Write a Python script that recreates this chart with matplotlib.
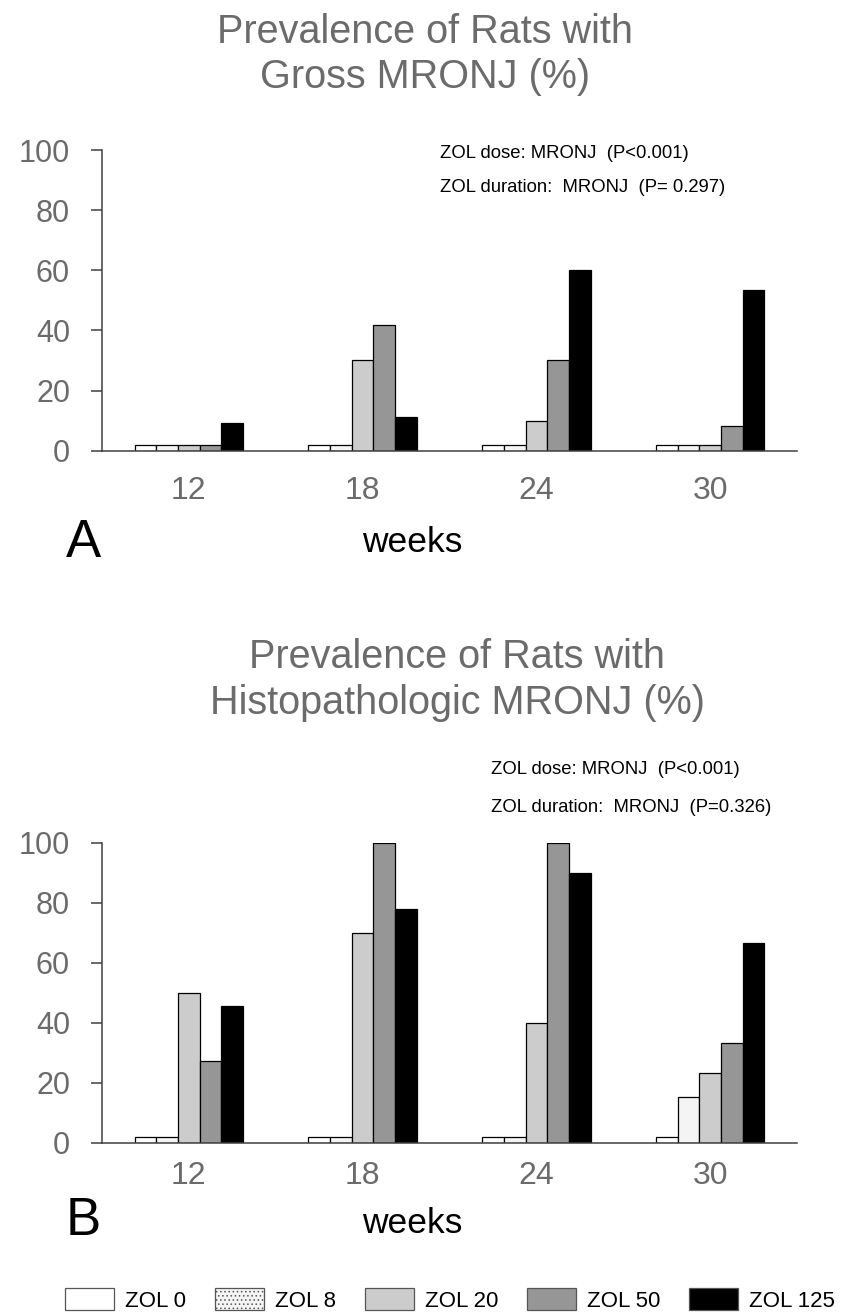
import matplotlib
matplotlib.use("Agg")
import matplotlib.pyplot as plt
from matplotlib.patches import Patch
import numpy as np

W, H = 842, 1313

weeks = ["12", "18", "24", "30"]
groups = ["ZOL 0", "ZOL 8", "ZOL 20", "ZOL 50", "ZOL 125"]

# % of rats (2 = small placeholder bar for zero)
gross_zol0 = [2, 2, 2, 2]
gross_zol8 = [2, 2, 2, 2]
gross_zol20 = [2, 30, 10, 2]
gross_zol50 = [2, 41.7, 30, 8.3]
gross_zol125 = [9.1, 11.1, 60, 53.3]

histo_zol0 = [2, 2, 2, 2]
histo_zol8 = [2, 2, 2, 15.4]
histo_zol20 = [50, 70, 40, 23.1]
histo_zol50 = [27.3, 100, 100, 33.3]
histo_zol125 = [45.5, 77.8, 90, 66.7]

gross_notes = ["ZOL dose: MRONJ  (P<0.001)", "ZOL duration:  MRONJ  (P= 0.297)"]
histo_notes = ["ZOL dose: MRONJ  (P<0.001)", "ZOL duration:  MRONJ  (P=0.326)"]

colors = ["white", "#f4f4f4", "#cccccc", "#969696", "black"]
hatches = [None, "....", None, None, None]

GRAY = "#6b6b6b"
SANS = ["Liberation Sans", "DejaVu Sans"]

plt.rcParams["font.family"] = SANS
plt.rcParams["hatch.color"] = "#888888"
plt.rcParams["hatch.linewidth"] = 0.6


def fx(x):
    return x / W


def fy(y):
    return 1 - y / H


def draw_panel(ax, series, tick_pad):
    width = 0.125
    x = np.arange(len(weeks))
    for i, vals in enumerate(series):
        ax.bar(x + (i - 2) * width, vals, width, color=colors[i],
               edgecolor="black", linewidth=0.9, zorder=2)
    ax.set_xlim(-0.5, 3.5)
    ax.set_ylim(0, 100)
    ax.set_yticks(range(0, 101, 20))
    ax.set_xticks(x)
    ax.set_xticklabels(weeks)
    for side in ("top", "right"):
        ax.spines[side].set_visible(False)
    for side in ("left", "bottom"):
        ax.spines[side].set_color("#404040")
        ax.spines[side].set_linewidth(1.1)
    ax.tick_params(axis="y", length=8, width=1.1, color="#404040",
                   labelsize=22, labelcolor=GRAY, pad=15)
    ax.tick_params(axis="x", length=0, labelsize=23, labelcolor=GRAY,
                   pad=tick_pad)


fig = plt.figure(figsize=(W / 100, H / 100), dpi=100)

ax_a = fig.add_axes([fx(102), fy(450.7), 695 / W, 300.7 / H])
draw_panel(ax_a, [gross_zol0, gross_zol8, gross_zol20, gross_zol50, gross_zol125], 18)

ax_b = fig.add_axes([fx(102), fy(1142.7), 695 / W, 300 / H])
draw_panel(ax_b, [histo_zol0, histo_zol8, histo_zol20, histo_zol50, histo_zol125], 13)

# titles
fig.text(fx(425), fy(32), "Prevalence of Rats with", ha="center", va="center",
         fontsize=28.5, color=GRAY)
fig.text(fx(425), fy(77), "Gross MRONJ (%)", ha="center", va="center",
         fontsize=28.5, color=GRAY)
fig.text(fx(457), fy(657), "Prevalence of Rats with", ha="center", va="center",
         fontsize=28.5, color=GRAY)
fig.text(fx(457), fy(703), "Histopathologic MRONJ (%)", ha="center", va="center",
         fontsize=28.5, color=GRAY)

# statistics notes
for k, note in enumerate(gross_notes):
    fig.text(fx(440), fy(154 + 33 * k), note, ha="left", va="center",
             fontsize=13.3)
for k, note in enumerate(histo_notes):
    fig.text(fx(491), fy(770 + 37 * k), note, ha="left", va="center",
             fontsize=13.3)

# panel letters and x labels
fig.text(fx(66), fy(557), "A", ha="left", va="baseline", fontsize=38)
fig.text(fx(412), fy(552), "weeks", ha="center", va="baseline", fontsize=25.5)
fig.text(fx(66), fy(1235), "B", ha="left", va="baseline", fontsize=38)
fig.text(fx(412), fy(1233), "weeks", ha="center", va="baseline", fontsize=25.5)

handles = [Patch(facecolor=colors[i], edgecolor="#555555", hatch=hatches[i],
                 linewidth=0.9) for i in range(len(groups))]
fig.legend(handles, groups, loc="center", bbox_to_anchor=(fx(450), fy(1300)),
           ncol=5, frameon=False, handlelength=2.2,
           handleheight=1.1, handletextpad=0.5, columnspacing=1.3,
           borderpad=0, prop={"size": 16})

fig.savefig("out.png", dpi=100)
